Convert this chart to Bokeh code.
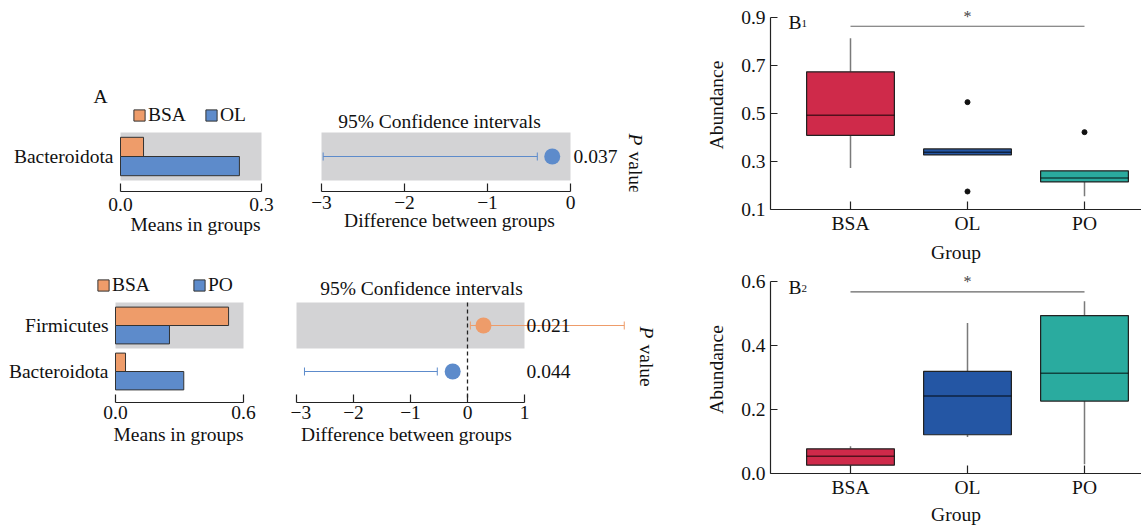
import math
from bokeh.plotting import figure
from bokeh.models import (Range1d, FixedTicker, Legend, LegendItem, Label, LinearAxis,
                          CustomJSTickFormatter, PrintfTickFormatter, Whisker,
                          ColumnDataSource, TeeHead)
from bokeh.layouts import row, column
from bokeh.embed import file_html
from bokeh.resources import INLINE

# ------------------------------------------------------------------ data
# Panel A, upper comparison (BSA vs OL)
a1_taxa = ["Bacteroidota"]
a1_groups = ["BSA", "OL"]
a1_mean_g1 = [0.049]
a1_mean_g2 = [0.253]
a1_diff = [-0.22]
a1_ci_low = [-2.98]
a1_ci_high = [-0.40]
a1_pvalue = ["0.037"]
a1_mean_ticks = [0.0, 0.3]
a1_diff_ticks = [-3, -2, -1, 0]

# Panel A, lower comparison (BSA vs PO)
a2_taxa = ["Firmicutes", "Bacteroidota"]
a2_groups = ["BSA", "PO"]
a2_mean_g1 = [0.53, 0.047]
a2_mean_g2 = [0.253, 0.32]
a2_diff = [0.28, -0.26]
a2_ci_low = [0.05, -2.86]
a2_ci_high = [2.75, -0.53]
a2_pvalue = ["0.021", "0.044"]
a2_mean_ticks = [0.0, 0.6]
a2_diff_ticks = [-3, -2, -1, 0, 1]

# Panel B boxplots
box_groups = ["BSA", "OL", "PO"]
b1_q1 = [0.409, 0.327, 0.215]
b1_med = [0.492, 0.338, 0.231]
b1_q3 = [0.673, 0.352, 0.261]
b1_lo = [0.273, 0.327, 0.155]
b1_hi = [0.813, 0.352, 0.261]
b1_out_group = ["OL", "OL", "PO"]
b1_out_val = [0.547, 0.175, 0.422]
b1_sig = 0.863
b1_ticks = [0.1, 0.3, 0.5, 0.7, 0.9]

b2_q1 = [0.026, 0.121, 0.226]
b2_med = [0.054, 0.242, 0.313]
b2_q3 = [0.077, 0.319, 0.493]
b2_lo = [0.022, 0.114, 0.029]
b2_hi = [0.085, 0.470, 0.538]
b2_out_group = []
b2_out_val = []
b2_sig = 0.567
b2_ticks = [0.0, 0.2, 0.4, 0.6]

# ------------------------------------------------------------------ style
FONT = "Liberation Serif"
FS = "19.5px"
TXT = "#111111"
ORANGE = "#ee9c6a"
BLUE = "#5d8bcb"
SHADE = "#d3d3d5"
EDGE = "#333333"
BOX_COLORS = ["#cf2a4a", "#2456a4", "#2aab9f"]
WHISK = "#7a7a7a"
MINUS_FMT = "return tick < 0 ? '\u2212' + Math.abs(tick) : String(tick);"


def make_fig(box, frame, xanchor, yanchor):
    """box/frame in page pixels; anchors = (value0, px0, value1, px1)."""
    bx0, by0, bx1, by1 = box
    fx0, fy0, fx1, fy1 = frame
    xv0, xp0, xv1, xp1 = xanchor
    yv0, yp0, yv1, yp1 = yanchor
    kx = (xv1 - xv0) / (xp1 - xp0)
    ky = (yv1 - yv0) / (yp0 - yp1)

    def X(px):
        return xv0 + (px - xp0) * kx

    def Y(py):
        return yv0 + (yp0 - py) * ky

    p = figure(width=bx1 - bx0, height=by1 - by0,
               x_range=Range1d(X(fx0), X(fx1)), y_range=Range1d(Y(fy1), Y(fy0)),
               min_border_left=fx0 - bx0, min_border_right=bx1 - fx1,
               min_border_top=fy0 - by0, min_border_bottom=by1 - fy1,
               output_backend="svg", toolbar_location=None)
    p.outline_line_color = None
    p.xgrid.visible = False
    p.ygrid.visible = False
    for ax in list(p.xaxis) + list(p.yaxis):
        ax.axis_line_color = "#222222"
        ax.axis_line_width = 1.2
        ax.major_tick_line_color = "#222222"
        ax.major_tick_line_width = 1.2
        ax.minor_tick_line_color = None
        ax.major_label_text_font = FONT
        ax.major_label_text_font_size = FS
        ax.major_label_text_color = TXT
        ax.axis_label_text_font = FONT
        ax.axis_label_text_font_size = FS
        ax.axis_label_text_font_style = "normal"
        ax.axis_label_text_color = TXT
    return p, X, Y, ky


def add_text(p, x, y, text, size=FS, align="left", baseline="middle",
             angle=0.0, style="normal", color=TXT):
    p.add_layout(Label(x=x, y=y, text=text, text_font=FONT, text_font_size=size,
                       text_align=align, text_baseline=baseline, angle=angle,
                       text_font_style=style, text_color=color))


def add_axis_title(p, center, text, standoff):
    """Second axis stacked under the main one: its single tick label is the axis title,
    centred on the data extent of the axis rather than on the whole frame."""
    ax = LinearAxis(ticker=FixedTicker(ticks=[center]),
                    formatter=CustomJSTickFormatter(args=dict(t=text), code="return t;"),
                    axis_line_color=None, major_tick_line_color=None,
                    minor_tick_line_color=None, major_tick_in=0, major_tick_out=0,
                    major_label_standoff=standoff, major_label_text_font=FONT,
                    major_label_text_font_size=FS, major_label_text_color=TXT)
    p.add_layout(ax, "below")


def shade_rows(p, ypos, left, right):
    shade = [y for i, y in enumerate(ypos) if i % 2 == 0]
    p.quad(left=left, right=right, bottom=[y - 0.5 for y in shade],
           top=[y + 0.5 for y in shade], fill_color=SHADE, line_color=None,
           level="image")


def bar_panel(box, frame, xanchor, yanchor, taxa, groups, m1, m2, ticks,
              label_right, leg_left, leg_cy, leg_spacing, title_cx, title_standoff,
              tick_standoff):
    p, X, Y, ky = make_fig(box, frame, xanchor, yanchor)
    n = len(taxa)
    ypos = [n - 1 - i for i in range(n)]
    shade_rows(p, ypos, ticks[0], ticks[-1])
    r1 = p.hbar(y=[y + 0.2 for y in ypos], left=0, right=m1, height=0.4,
                fill_color=ORANGE, line_color=EDGE, line_width=1)
    r2 = p.hbar(y=[y - 0.2 for y in ypos], left=0, right=m2, height=0.4,
                fill_color=BLUE, line_color=EDGE, line_width=1)
    for y, name in zip(ypos, taxa):
        add_text(p, X(label_right), y, name, align="right")
    leg = Legend(items=[LegendItem(label=groups[0], renderers=[r1]),
                        LegendItem(label=groups[1], renderers=[r2])],
                 orientation="horizontal",
                 location=(leg_left - frame[0], frame[3] - leg_cy - 11),
                 glyph_width=14, glyph_height=14, label_standoff=2,
                 spacing=leg_spacing, padding=0, margin=0,
                 border_line_color=None, background_fill_alpha=0,
                 label_text_font=FONT, label_text_font_size=FS,
                 label_text_color=TXT)
    p.add_layout(leg)
    xa = p.xaxis[0]
    xa.ticker = FixedTicker(ticks=ticks)
    xa.bounds = (ticks[0], ticks[-1])
    xa.formatter = PrintfTickFormatter(format="%.1f")
    xa.major_tick_in = 8
    xa.major_tick_out = 0
    xa.major_label_standoff = tick_standoff
    add_axis_title(p, X(title_cx), "Means in groups", title_standoff)
    p.yaxis.visible = False
    return p, X, Y


def ci_panel(box, frame, xanchor, yanchor, diff, lo, hi, pvals, ticks, pval_left,
             title_xy, pv_x, pv_top, xtitle_cx, xtitle_standoff, tick_standoff):
    p, X, Y, ky = make_fig(box, frame, xanchor, yanchor)
    n = len(diff)
    ypos = [n - 1 - i for i in range(n)]
    shade_rows(p, ypos, ticks[0], ticks[-1])
    if ticks[0] < 0 < ticks[-1]:
        p.segment(x0=[0], x1=[0], y0=[ypos[0] + 0.5], y1=[ypos[-1] - 0.6],
                  line_dash="4 3", line_color="#222222", line_width=1.3)
    colors = [ORANGE if d > 0 else BLUE for d in diff]
    for i in range(n):
        src = ColumnDataSource(dict(y=[ypos[i]], lo=[lo[i]], hi=[hi[i]]))
        p.add_layout(Whisker(source=src, base="y", lower="lo", upper="hi",
                             dimension="width", line_color=colors[i], line_width=1,
                             level="underlay",
                             lower_head=TeeHead(size=8, line_color=colors[i], line_width=1),
                             upper_head=TeeHead(size=8, line_color=colors[i], line_width=1)))
    p.scatter(x=diff, y=ypos, size=16, fill_color=colors, line_color=None)
    xa = p.xaxis[0]
    xa.ticker = FixedTicker(ticks=ticks)
    xa.bounds = (ticks[0], ticks[-1])
    xa.formatter = CustomJSTickFormatter(code=MINUS_FMT)
    xa.major_tick_in = 8
    xa.major_tick_out = 0
    xa.major_label_standoff = tick_standoff
    add_axis_title(p, X(xtitle_cx), "Difference between groups", xtitle_standoff)
    p.yaxis.visible = False
    for i in range(n):
        add_text(p, X(pval_left), ypos[i], pvals[i])
    add_text(p, X(title_xy[0]), Y(title_xy[1]), "95% Confidence intervals", align="center")
    add_text(p, X(pv_x), Y(pv_top), "P", angle=-math.pi / 2, style="italic")
    add_text(p, X(pv_x), Y(pv_top + 18), "value", angle=-math.pi / 2)
    return p


def box_panel(box, frame, yanchor, ticks, q1, med, q3, lo, hi, out_group, out_val,
              sig, sub, b_base, group_standoff):
    p, X, Y, ky = make_fig(box, frame, (0, 850, 2, 1084), yanchor)
    idx = list(range(len(box_groups)))
    w = 0.75
    p.segment(x0=idx, x1=idx, y0=q3, y1=hi, line_color=WHISK, line_width=1.5)
    p.segment(x0=idx, x1=idx, y0=q1, y1=lo, line_color=WHISK, line_width=1.5)
    p.vbar(x=idx, width=w, bottom=q1, top=q3, fill_color=BOX_COLORS,
           line_color="#222222", line_width=1.2)
    p.segment(x0=[i - w / 2 for i in idx], x1=[i + w / 2 for i in idx], y0=med, y1=med,
              line_color="#000000", line_alpha=0.6, line_width=1.5)
    if out_val:
        p.scatter(x=[box_groups.index(g) for g in out_group], y=out_val, size=5,
                  color="#111111")
    p.segment(x0=[idx[0]], x1=[idx[-1]], y0=[sig], y1=[sig], line_color="#666666",
              line_width=1.2)
    add_text(p, idx[1], sig + 10 * ky, "*", size="16px", align="center",
             baseline="middle", color="#444444")
    add_text(p, X(788), Y(b_base), "B", baseline="alphabetic")
    add_text(p, X(801), Y(b_base + 1), sub, size="11px", baseline="alphabetic")
    xa = p.xaxis[0]
    xa.ticker = FixedTicker(ticks=idx)
    xa.formatter = CustomJSTickFormatter(args=dict(names=box_groups),
                                         code="return names[Math.round(tick)];")
    xa.major_tick_in = 8
    xa.major_tick_out = 0
    xa.major_label_standoff = 3
    xa.axis_label = "Group"
    xa.axis_label_standoff = group_standoff
    ya = p.yaxis[0]
    ya.ticker = FixedTicker(ticks=ticks)
    ya.bounds = (ticks[0], ticks[-1])
    ya.formatter = PrintfTickFormatter(format="%.1f")
    ya.major_tick_in = 7
    ya.major_tick_out = 0
    ya.major_label_standoff = 5
    ya.axis_label = "Abundance"
    ya.axis_label_standoff = 11
    return p


# ------------------------------------------------------------------ panels
a1l, X1, Y1 = bar_panel((0, 0, 290, 265), (0, 0, 290, 191), (0, 120, 0.3, 261),
                        (0, 156, 0.5, 132), a1_taxa, a1_groups, a1_mean_g1, a1_mean_g2,
                        a1_mean_ticks, 113, 132, 115, 18, 195, 0, 6)
add_text(a1l, X1(100), Y1(96), "A", align="center")

a1r = ci_panel((290, 0, 690, 265), (290, 0, 690, 191), (-3, 321, 0, 570),
               (0, 156, 0.5, 132), a1_diff, a1_ci_low, a1_ci_high, a1_pvalue,
               a1_diff_ticks, 573, (439, 121), 635, 133, 449, -2, 4)

a2l, X2, Y2 = bar_panel((0, 265, 290, 527), (0, 265, 290, 402), (0, 115, 0.6, 243),
                        (1, 325, 0, 371), a2_taxa, a2_groups, a2_mean_g1, a2_mean_g2,
                        a2_mean_ticks, 108, 96, 285, 42, 178, 2, 3)

a2r = ci_panel((290, 265, 690, 527), (290, 265, 690, 402), (-3, 296, 1, 524),
               (1, 325, 0, 371), a2_diff, a2_ci_low, a2_ci_high, a2_pvalue,
               a2_diff_ticks, 526, (421, 288), 646, 326, 406, 2, 3)

b1 = box_panel((690, 0, 1141, 265), (770, 0, 1141, 211), (0.1, 211, 0.9, 17), b1_ticks,
               b1_q1, b1_med, b1_q3, b1_lo, b1_hi, b1_out_group, b1_out_val, b1_sig,
               "1", 22, 5)
b2 = box_panel((690, 265, 1141, 527), (770, 265, 1141, 476), (0.0, 476, 0.6, 281), b2_ticks,
               b2_q1, b2_med, b2_q3, b2_lo, b2_hi, b2_out_group, b2_out_val, b2_sig,
               "2", 287, 3)

layout = row(column(row(a1l, a1r), row(a2l, a2r)), column(b1, b2))

with open("out.html", "w", encoding="utf-8") as f:
    f.write(file_html(layout, INLINE, title="Differential abundance"))
